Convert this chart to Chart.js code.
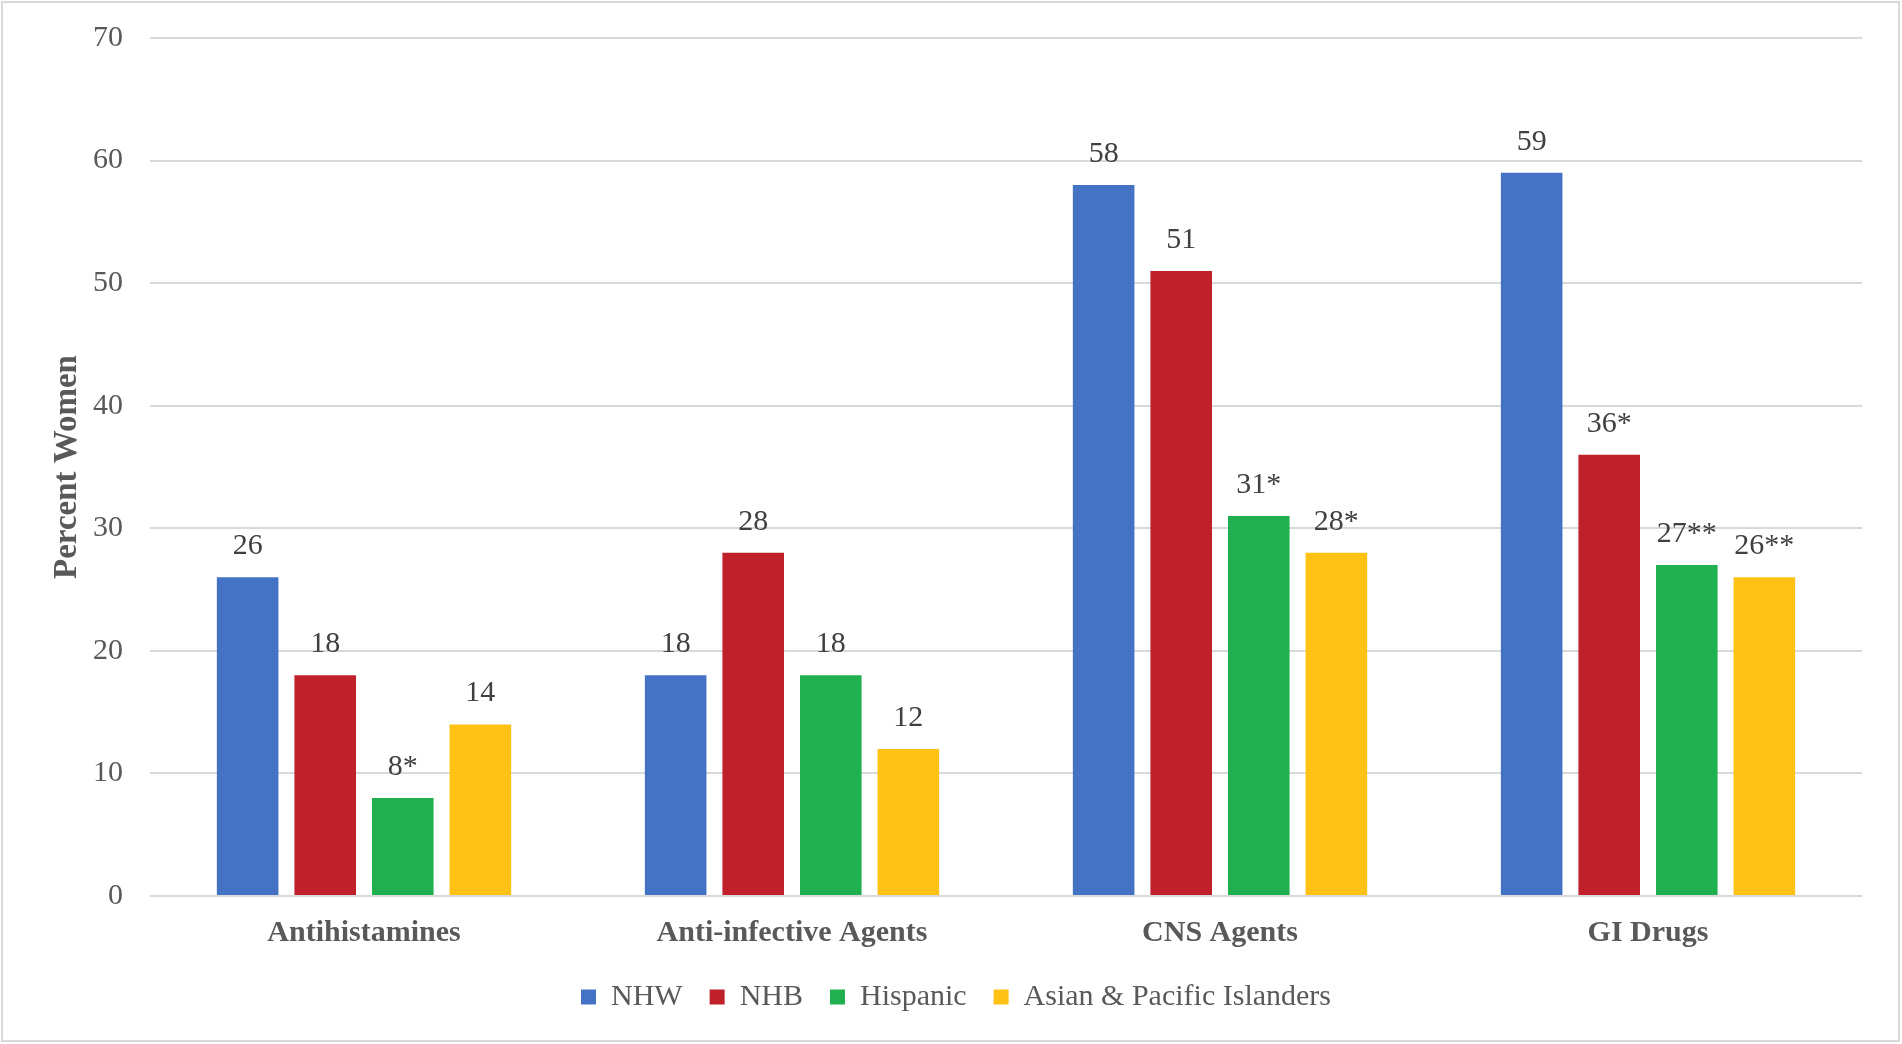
<!DOCTYPE html>
<html>
<head>
<meta charset="utf-8">
<title>Percent Women by drug class</title>
<script src="https://cdn.jsdelivr.net/npm/chart.js@4.4.1/dist/chart.umd.min.js"></script>
<style>
  html, body { margin: 0; padding: 0; background: #fff; }
  #wrap { width: 1902px; height: 1044px; position: relative; }
</style>
</head>
<body>
<div id="wrap"><canvas id="chart"></canvas></div>
<script>
// categories and series
const categories = ["Antihistamines", "Anti-infective Agents", "CNS Agents", "GI Drugs"];
const seriesNames = ["NHW", "NHB", "Hispanic", "Asian & Pacific Islanders"];
const nhw = [26, 18, 58, 59];
const nhb = [18, 28, 51, 36];
const hispanic = [8, 18, 31, 27];
const asianPI = [14, 12, 28, 26];
// value labels as printed (asterisks mark significance)
const nhwLabels = ["26", "18", "58", "59"];
const nhbLabels = ["18", "28", "51", "36*"];
const hispanicLabels = ["8*", "18", "31*", "27**"];
const asianPILabels = ["14", "12", "28*", "26**"];
const yTicks = [0, 10, 20, 30, 40, 50, 60, 70];

const colors = ["#4472C4", "#C0202A", "#21B04F", "#FFC114"];
const serif = "'Liberation Serif', 'Times New Roman', serif";
const grey = "#595959";

const values = [nhw, nhb, hispanic, asianPI];
const labelSets = [nhwLabels, nhbLabels, hispanicLabels, asianPILabels];

// white page + thin frame like the exported figure
const frame = {
  id: "frame",
  beforeDraw(chart) {
    const ctx = chart.ctx;
    ctx.save();
    ctx.fillStyle = "#fff";
    ctx.fillRect(0, 0, chart.width, chart.height);
    ctx.strokeStyle = "#d9d9d9";
    ctx.lineWidth = 2;
    ctx.strokeRect(2, 2, chart.width - 5, chart.height - 5);
    ctx.restore();
  }
};

// legend sits centred on the page, not on the padded box
const legendNudge = {
  id: "legendNudge",
  afterLayout(chart) {
    chart.legend.left += 25;
    chart.legend.right += 25;
  }
};

// numbers above the bars
const valueLabels = {
  id: "valueLabels",
  afterDatasetsDraw(chart) {
    const ctx = chart.ctx;
    ctx.save();
    ctx.font = "30px " + serif;
    ctx.fillStyle = "#404040";
    ctx.textAlign = "center";
    ctx.textBaseline = "middle";
    chart.data.datasets.forEach((ds, i) => {
      const meta = chart.getDatasetMeta(i);
      meta.data.forEach((bar, j) => {
        ctx.fillText(ds.valueText[j], bar.x, bar.y - 31);
      });
    });
    ctx.restore();
  }
};

new Chart(document.getElementById("chart"), {
  type: "bar",
  data: {
    labels: categories,
    datasets: seriesNames.map((name, i) => ({
      label: name,
      data: values[i],
      valueText: labelSets[i],
      backgroundColor: colors[i],
      borderWidth: 0,
      categoryPercentage: 0.725,
      barPercentage: 0.794
    }))
  },
  options: {
    responsive: true,
    maintainAspectRatio: false,
    animation: false,
    devicePixelRatio: 1,
    layout: { padding: { top: 38, right: 40, bottom: 22, left: 0 } },
    plugins: {
      tooltip: { enabled: false },
      legend: {
        position: "bottom",
        labels: {
          boxWidth: 15,
          boxHeight: 15,
          padding: 27,
          color: grey,
          font: { family: serif, size: 30 }
        }
      }
    },
    scales: {
      x: {
        grid: { display: false, drawTicks: false },
        border: { display: false },
        ticks: {
          color: grey,
          padding: 19,
          font: { family: serif, size: 30, weight: "bold" }
        },
        afterFit(scale) { scale.height = 59; }
      },
      y: {
        min: 0,
        max: 70,
        afterBuildTicks(scale) { scale.ticks = yTicks.map(v => ({ value: v })); },
        grid: { color: "#d9d9d9", lineWidth: 2, drawTicks: false },
        border: { display: false },
        ticks: {
          color: grey,
          padding: 27,
          font: { family: serif, size: 30 }
        },
        title: {
          display: true,
          text: "Percent Women",
          color: grey,
          padding: { top: 48, bottom: 0 },
          font: { family: serif, size: 33, weight: "bold" }
        },
        afterFit(scale) {
          scale.width = 150;
          scale.paddingTop = 0;
          scale.paddingBottom = 0;
        }
      }
    }
  },
  plugins: [frame, legendNudge, valueLabels]
});
</script>
</body>
</html>
